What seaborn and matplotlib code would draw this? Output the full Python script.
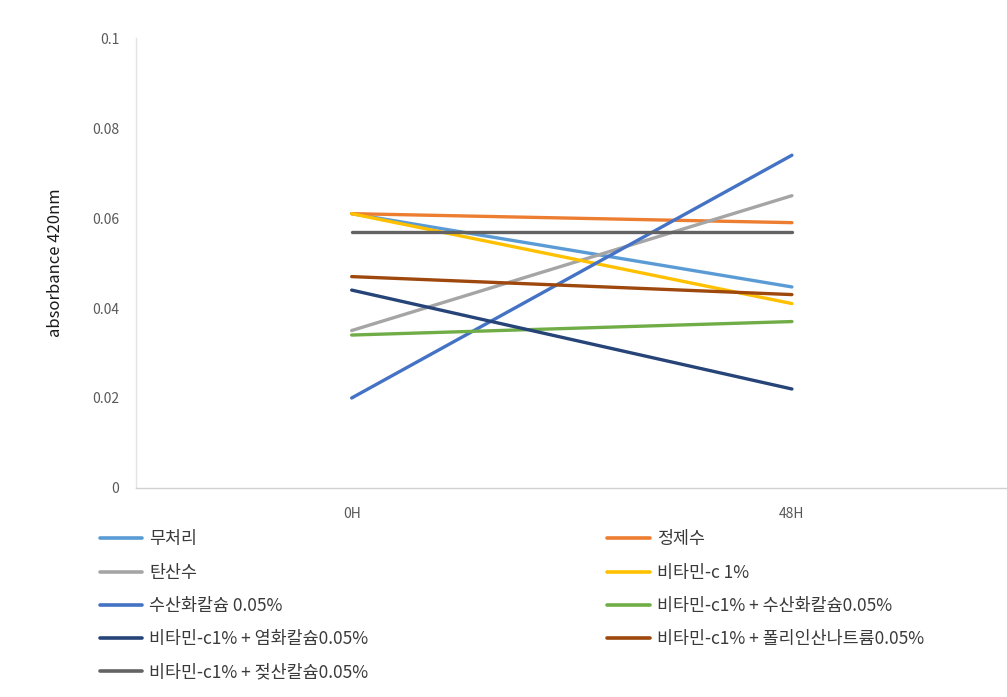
import matplotlib
matplotlib.use("Agg")
import matplotlib.pyplot as plt
import seaborn as sns
import pandas as pd

times = ["0H", "48H"]
series = [
    "무처리", "정제수", "탄산수", "비타민-c 1%", "수산화칼슘 0.05%",
    "비타민-c1% + 수산화칼슘0.05%", "비타민-c1% + 염화칼슘0.05%",
    "비타민-c1% + 폴리인산나트륨0.05%", "비타민-c1% + 젖산칼슘0.05%",
]
v_0h = [0.061, 0.061, 0.035, 0.061, 0.020, 0.034, 0.044, 0.047, 0.057]
v_48h = [0.0447, 0.059, 0.065, 0.041, 0.074, 0.037, 0.022, 0.043, 0.057]
colors = ["#5B9BD5", "#ED7D31", "#A5A5A5", "#FFC000", "#4472C4",
          "#70AD47", "#264478", "#9E480E", "#636363"]

rows = []
for name, a, b in zip(series, v_0h, v_48h):
    rows.append({"time": times[0], "x": 0, "series": name, "value": a})
    rows.append({"time": times[1], "x": 1, "series": name, "value": b})
df = pd.DataFrame(rows)

sns.set_theme(style="white")
plt.rcParams["font.family"] = ["Noto Sans CJK KR", "DejaVu Sans"]

fig = plt.figure(figsize=(10.07, 6.97), dpi=100)
ax = fig.add_axes([0.135, 0.30, 0.87, 0.645])

sns.lineplot(data=df, x="x", y="value", hue="series", hue_order=series,
             palette=colors, linewidth=2.4, ax=ax, legend=False)

ax.set_xlim(-0.49, 1.5)
ax.set_ylim(0, 0.1)
ax.set_xticks([0, 1])
ax.set_xticklabels(times)
ax.set_yticks([0, 0.02, 0.04, 0.06, 0.08, 0.1])
ax.set_yticklabels(["0", "0.02", "0.04", "0.06", "0.08", "0.1"])
ax.tick_params(axis="both", labelsize=10, colors="#595959", length=0, pad=12)
ax.tick_params(axis="x", pad=14)
ax.set_xlabel("")
ax.set_ylabel("absorbance 420nm", fontsize=12, color="#1a1a1a", labelpad=20)

for side in ["top", "right"]:
    ax.spines[side].set_visible(False)
ax.spines["left"].set_color("#e3e3e3")
ax.spines["bottom"].set_color("#d0d0d0")
ax.spines["left"].set_linewidth(1.0)
ax.spines["bottom"].set_linewidth(1.0)

handles = [plt.Line2D([], [], color=c, linewidth=2.6) for c in colors]
left_idx = [0, 2, 4, 6, 8]
right_idx = [1, 3, 5, 7]
common = dict(frameon=False, fontsize=12.5, handlelength=2.45, handletextpad=0.4,
              labelspacing=0.88, loc="upper left", labelcolor="#3a3a3a",
              borderaxespad=0.0)
leg1 = fig.legend([handles[i] for i in left_idx], [series[i] for i in left_idx],
                  bbox_to_anchor=(0.092, 0.249), **common)
leg2 = fig.legend([handles[i] for i in right_idx], [series[i] for i in right_idx],
                  bbox_to_anchor=(0.596, 0.249), **common)

fig.savefig("out.png", dpi=100, facecolor="white")
